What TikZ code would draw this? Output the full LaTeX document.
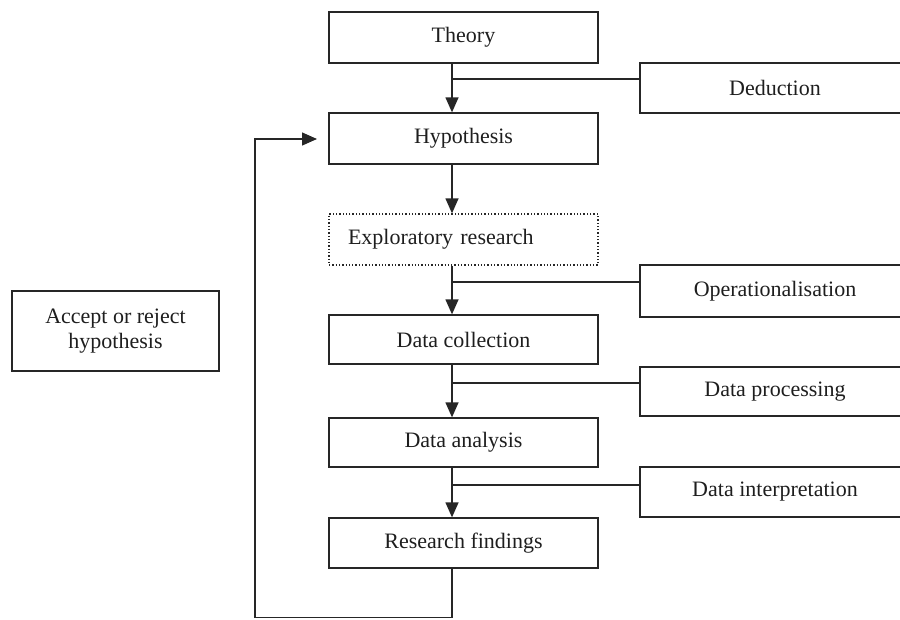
\documentclass[tikz,border=0pt]{standalone}
\usepackage{fontspec}
\setmainfont{Liberation Serif}
\usetikzlibrary{arrows.meta,calc}
\definecolor{ln}{HTML}{262626}
\definecolor{tx}{HTML}{1E1E1E}
\begin{document}
\begin{tikzpicture}[x=1pt,y=-1pt,
  box/.style={draw=ln,line width=1.3pt,rectangle,inner sep=0pt,text=tx,
    font=\fontsize{22}{26}\selectfont,minimum width=269pt},
  rbox/.style={box,minimum width=270pt},
  conn/.style={draw=ln,line width=1.3pt},
  arr/.style={conn,-{Triangle[width=13pt,length=15pt]}}]
\useasboundingbox (0,0) rectangle (900,619);
\begin{scope}
\clip (0,0) rectangle (900,619);
% main column
\node[box,minimum height=51pt] (theory) at (463.5,37.5) {Theory};
\node[box,minimum height=51pt] (hyp) at (463.5,138.5) {Hypothesis};
\node[box,dotted,minimum height=51pt,text width=231pt,align=left,inner xsep=19pt] (expl) at (463.5,239.5) {Exploratory research};
\node[box,minimum height=49pt] (dcoll) at (463.5,339.5) {Data collection};
\node[box,minimum height=49pt] (danal) at (463.5,442.5) {Data analysis};
\node[box,minimum height=50pt] (rfind) at (463.5,543) {Research findings};
% right column
\node[rbox,minimum height=50pt] (ded) at (775,88) {Deduction};
\node[rbox,minimum height=52pt] (oper) at (775,291) {Operationalisation};
\node[rbox,minimum height=49pt] (dproc) at (775,391.5) {Data processing};
\node[rbox,minimum height=50pt] (dint) at (775,492) {Data interpretation};
% left
\node[box,minimum width=207pt,minimum height=80pt,align=center,
  font=\fontsize{22}{25}\selectfont] (acc) at (115.5,331) {Accept or reject\\hypothesis};
% helper coordinates
\coordinate (sp) at (452,0);
\coordinate (j1) at (0,79);
\coordinate (j2) at (0,282);
\coordinate (j3) at (0,383);
\coordinate (j4) at (0,485);
\coordinate (lb) at (255,617.5);
\coordinate (tip) at (317,139);
% vertical arrows
\draw[arr] (theory.south -| sp) -- (hyp.north -| sp);
\draw[arr] (hyp.south -| sp) -- (expl.north -| sp);
\draw[arr] (expl.south -| sp) -- (dcoll.north -| sp);
\draw[arr] (dcoll.south -| sp) -- (danal.north -| sp);
\draw[arr] (danal.south -| sp) -- (rfind.north -| sp);
% branches
\draw[conn] (sp |- j1) -- (ded.west |- j1);
\draw[conn] (sp |- j2) -- (oper.west |- j2);
\draw[conn] (sp |- j3) -- (dproc.west |- j3);
\draw[conn] (sp |- j4) -- (dint.west |- j4);
% feedback loop
\draw[arr] (rfind.south -| sp) -- (sp |- lb) -- (lb) -- (lb |- tip) -- (tip);
\end{scope}
\end{tikzpicture}
\end{document}
